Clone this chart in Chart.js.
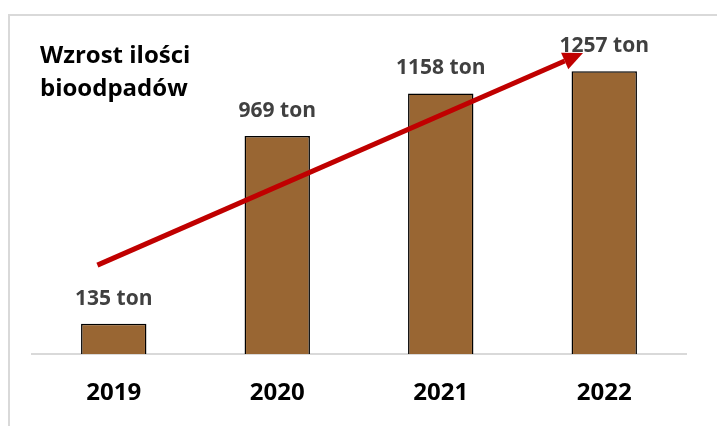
<!DOCTYPE html>
<html lang="pl">
<head>
<meta charset="utf-8">
<title>Wzrost ilości bioodpadów</title>
<script src="https://cdn.jsdelivr.net/npm/chart.js@4"></script>
<style>
  html, body { margin: 0; padding: 0; background: #fff; }
  #wrap { position: relative; width: 717px; height: 426px; overflow: hidden; }
  #frame {
    position: absolute; left: 8px; top: 14px; right: -10px; bottom: -10px;
    border-top: 2px solid #d9d9d9; border-left: 2px solid #d9d9d9;
    pointer-events: none;
  }
  #chart { position: absolute; left: 0; top: 0; }
</style>
</head>
<body>
<div id="wrap">
  <div id="frame"></div>
  <canvas id="chart" width="717" height="426"></canvas>
</div>
<script>
const years = ["2019", "2020", "2021", "2022"];
const tonnes = [135, 969, 1158, 1257];
const titleLines = ["Wzrost ilości", "bioodpadów"];
// trend arrow, in data space: [category index, value]
const arrowFrom = [-0.1, 395];
const arrowTo = [2.87, 1338];

const FONT = "'Open Sans', 'Liberation Sans', sans-serif";

const overlay = {
  id: "overlay",
  afterDatasetsDraw(chart) {
    const ctx = chart.ctx;
    const meta = chart.getDatasetMeta(0);
    const xs = chart.scales.x, ys = chart.scales.y;

    // value labels
    ctx.save();
    ctx.font = "bold 21px " + FONT;
    ctx.fillStyle = "#404040";
    ctx.textAlign = "center";
    ctx.textBaseline = "alphabetic";
    meta.data.forEach((bar, i) => {
      ctx.fillText(tonnes[i] + " ton", bar.x, bar.y - 19);
    });
    ctx.restore();

    // title
    ctx.save();
    ctx.font = "bold 24px " + FONT;
    ctx.fillStyle = "#000";
    ctx.textAlign = "left";
    titleLines.forEach((t, i) => ctx.fillText(t, 40, 63 + i * 33));
    ctx.restore();

    // red arrow
    const x1 = xs.getPixelForValue(arrowFrom[0]), y1 = ys.getPixelForValue(arrowFrom[1]);
    const x2 = xs.getPixelForValue(arrowTo[0]), y2 = ys.getPixelForValue(arrowTo[1]);
    const ang = Math.atan2(y2 - y1, x2 - x1);
    const headLen = 20, headW = 9;
    const bx = x2 - headLen * Math.cos(ang), by = y2 - headLen * Math.sin(ang);
    ctx.save();
    ctx.strokeStyle = "#c00000";
    ctx.fillStyle = "#c00000";
    ctx.lineWidth = 5;
    ctx.beginPath();
    ctx.moveTo(x1, y1);
    ctx.lineTo(bx, by);
    ctx.stroke();
    ctx.beginPath();
    ctx.moveTo(x2, y2);
    ctx.lineTo(bx + headW * Math.sin(ang), by - headW * Math.cos(ang));
    ctx.lineTo(bx - headW * Math.sin(ang), by + headW * Math.cos(ang));
    ctx.closePath();
    ctx.fill();
    ctx.restore();
  }
};

new Chart(document.getElementById("chart"), {
  type: "bar",
  data: {
    labels: years,
    datasets: [{
      data: tonnes,
      backgroundColor: "#996633",
      borderColor: "#000",
      borderWidth: 1.5,
      borderSkipped: "bottom",
      barPercentage: 0.4,
      categoryPercentage: 1
    }]
  },
  options: {
    responsive: false,
    animation: false,
    layout: { padding: { left: 32, right: 31, top: 39, bottom: 20 } },
    plugins: { legend: { display: false }, title: { display: false }, tooltip: { enabled: false } },
    scales: {
      x: {
        grid: { display: false, drawTicks: false },
        border: { color: "#d9d9d9", width: 2 },
        ticks: { color: "#000", font: { family: FONT, size: 24, weight: "bold" }, padding: 25 },
        afterFit(scale) { scale.height = 52; }
      },
      y: { display: false, min: 0, max: 1400 }
    }
  },
  plugins: [overlay]
});
</script>
</body>
</html>
